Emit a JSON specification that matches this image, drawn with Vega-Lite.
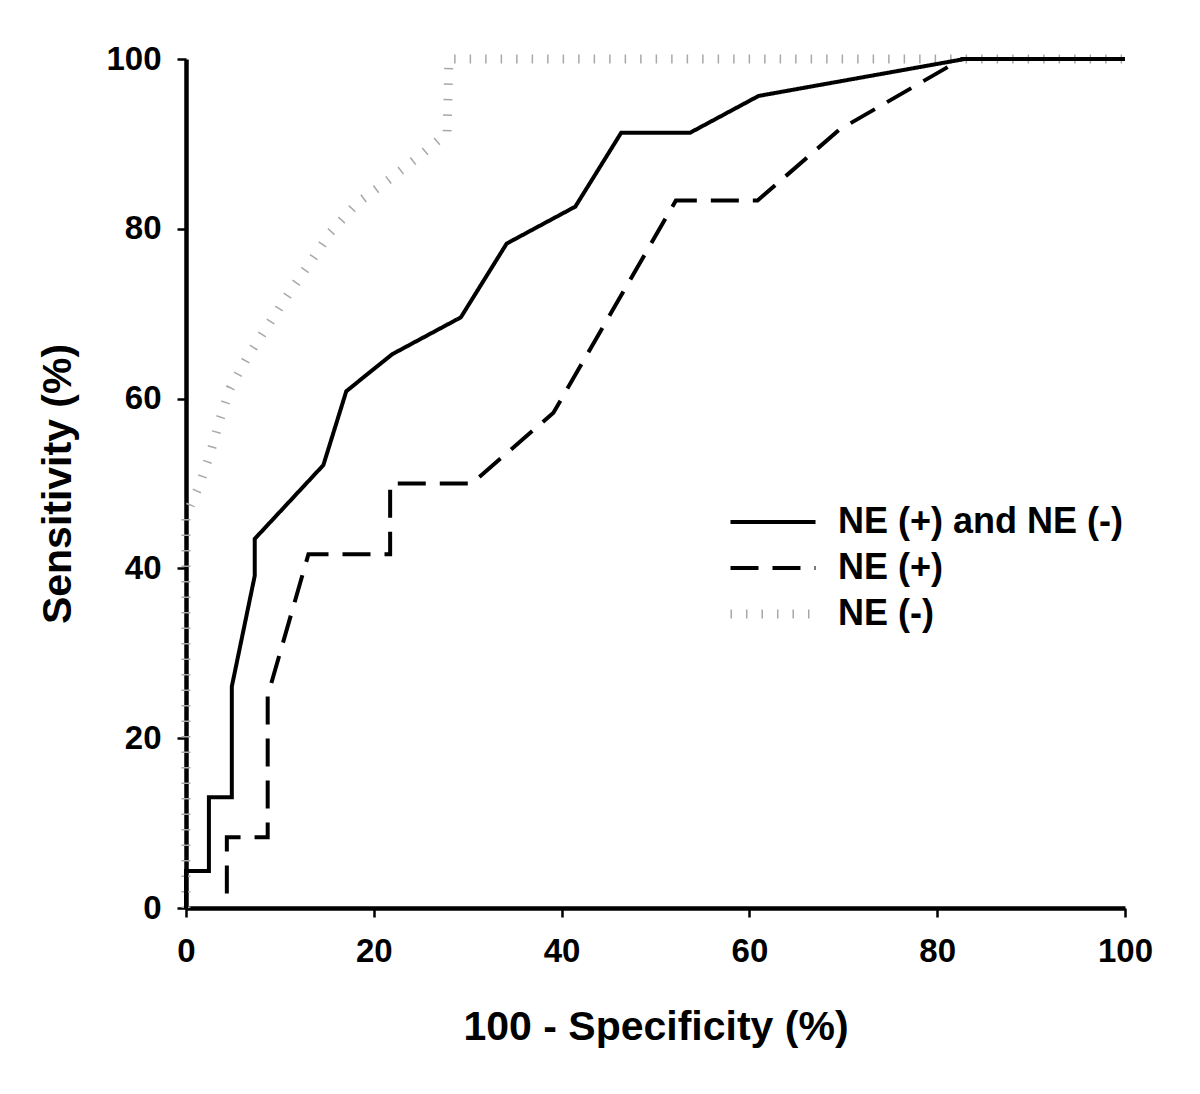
{
  "$schema": "https://vega.github.io/schema/vega-lite/v6.json",
  "width": 939,
  "height": 849,
  "autosize": {"type": "none"},
  "padding": {"left": 186, "top": 59, "right": 75, "bottom": 186},
  "background": "white",
  "config": {
    "view": {"stroke": null},
    "font": "Liberation Sans",
    "axis": {
      "grid": false,
      "domainColor": "#000000",
      "domainWidth": 4.5,
      "tickColor": "#000000",
      "tickWidth": 2.5,
      "tickSize": 9,
      "labelFont": "Liberation Sans",
      "labelFontSize": 33,
      "labelFontWeight": "bold",
      "labelColor": "#000000",
      "labelFlush": false,
      "titleFont": "Liberation Sans",
      "titleFontSize": 41,
      "titleFontWeight": "bold",
      "titleColor": "#000000"
    },
    "legend": {
      "orient": "none",
      "legendX": 569,
      "legendY": 445,
      "padding": 0,
      "labelFont": "Liberation Sans",
      "labelFontSize": 36,
      "labelFontWeight": "bold",
      "labelColor": "#000000",
      "labelOffset": 47,
      "symbolType": "M-4,0L4,0",
      "symbolSize": 452,
      "rowPadding": 10,
      "labelLimit": 600
    }
  },
  "data": {
    "values": [
      {"series": "NE (-)", "o": 1, "x": 0, "y": 0},
      {"series": "NE (-)", "o": 2, "x": 0, "y": 46},
      {"series": "NE (-)", "o": 3, "x": 0.5, "y": 47.5},
      {"series": "NE (-)", "o": 4, "x": 1.5, "y": 50},
      {"series": "NE (-)", "o": 5, "x": 2.6, "y": 53.6},
      {"series": "NE (-)", "o": 6, "x": 3.6, "y": 57.5},
      {"series": "NE (-)", "o": 7, "x": 4.7, "y": 61.2},
      {"series": "NE (-)", "o": 8, "x": 6.5, "y": 64.8},
      {"series": "NE (-)", "o": 9, "x": 8.6, "y": 68.4},
      {"series": "NE (-)", "o": 10, "x": 10.9, "y": 72.3},
      {"series": "NE (-)", "o": 11, "x": 13.2, "y": 76.0},
      {"series": "NE (-)", "o": 12, "x": 15.4, "y": 79.6},
      {"series": "NE (-)", "o": 13, "x": 18.2, "y": 83.0},
      {"series": "NE (-)", "o": 14, "x": 21.5, "y": 85.7},
      {"series": "NE (-)", "o": 15, "x": 24.8, "y": 88.5},
      {"series": "NE (-)", "o": 16, "x": 27.8, "y": 91.3},
      {"series": "NE (-)", "o": 17, "x": 28.0, "y": 100},
      {"series": "NE (-)", "o": 18, "x": 100, "y": 100},

      {"series": "NE (+) and NE (-)", "o": 1, "x": 0, "y": 0},
      {"series": "NE (+) and NE (-)", "o": 2, "x": 0, "y": 4.35},
      {"series": "NE (+) and NE (-)", "o": 3, "x": 2.44, "y": 4.35},
      {"series": "NE (+) and NE (-)", "o": 4, "x": 2.44, "y": 13.04},
      {"series": "NE (+) and NE (-)", "o": 5, "x": 4.88, "y": 13.04},
      {"series": "NE (+) and NE (-)", "o": 6, "x": 4.88, "y": 26.09},
      {"series": "NE (+) and NE (-)", "o": 7, "x": 7.32, "y": 39.13},
      {"series": "NE (+) and NE (-)", "o": 8, "x": 7.32, "y": 43.48},
      {"series": "NE (+) and NE (-)", "o": 9, "x": 14.63, "y": 52.17},
      {"series": "NE (+) and NE (-)", "o": 10, "x": 17.07, "y": 60.87},
      {"series": "NE (+) and NE (-)", "o": 11, "x": 21.95, "y": 65.22},
      {"series": "NE (+) and NE (-)", "o": 12, "x": 29.27, "y": 69.57},
      {"series": "NE (+) and NE (-)", "o": 13, "x": 34.15, "y": 78.26},
      {"series": "NE (+) and NE (-)", "o": 14, "x": 41.46, "y": 82.61},
      {"series": "NE (+) and NE (-)", "o": 15, "x": 46.34, "y": 91.30},
      {"series": "NE (+) and NE (-)", "o": 16, "x": 53.66, "y": 91.30},
      {"series": "NE (+) and NE (-)", "o": 17, "x": 60.98, "y": 95.65},
      {"series": "NE (+) and NE (-)", "o": 18, "x": 82.93, "y": 100},
      {"series": "NE (+) and NE (-)", "o": 19, "x": 100, "y": 100},

      {"series": "NE (+)", "o": 1, "x": 4.35, "y": 1.7},
      {"series": "NE (+)", "o": 2, "x": 4.35, "y": 8.33},
      {"series": "NE (+)", "o": 3, "x": 8.70, "y": 8.33},
      {"series": "NE (+)", "o": 4, "x": 8.70, "y": 25.0},
      {"series": "NE (+)", "o": 5, "x": 13.04, "y": 41.67},
      {"series": "NE (+)", "o": 6, "x": 21.74, "y": 41.67},
      {"series": "NE (+)", "o": 7, "x": 21.74, "y": 50.0},
      {"series": "NE (+)", "o": 8, "x": 30.43, "y": 50.0},
      {"series": "NE (+)", "o": 9, "x": 39.13, "y": 58.33},
      {"series": "NE (+)", "o": 10, "x": 52.17, "y": 83.33},
      {"series": "NE (+)", "o": 11, "x": 60.87, "y": 83.33},
      {"series": "NE (+)", "o": 12, "x": 69.57, "y": 91.67},
      {"series": "NE (+)", "o": 13, "x": 82.61, "y": 100},
      {"series": "NE (+)", "o": 14, "x": 100, "y": 100}
    ]
  },
  "mark": {"type": "line", "strokeCap": "butt", "strokeJoin": "miter"},
  "encoding": {
    "x": {
      "field": "x",
      "type": "quantitative",
      "scale": {"domain": [0, 100], "nice": false, "zero": false},
      "axis": {
        "values": [0, 20, 40, 60, 80, 100],
        "format": "d",
        "title": "100 - Specificity (%)",
        "labelPadding": 18,
        "titlePadding": 39
      }
    },
    "y": {
      "field": "y",
      "type": "quantitative",
      "scale": {"domain": [0, 100], "nice": false, "zero": false},
      "axis": {
        "values": [0, 20, 40, 60, 80, 100],
        "format": "d",
        "title": "Sensitivity (%)",
        "labelPadding": 16,
        "titlePadding": 26
      }
    },
    "order": {"field": "o", "type": "quantitative"},
    "color": {
      "field": "series",
      "type": "nominal",
      "scale": {
        "domain": ["NE (+) and NE (-)", "NE (+)", "NE (-)"],
        "range": ["#000000", "#000000", "#a8a8a8"]
      },
      "legend": {"title": null}
    },
    "strokeDash": {
      "field": "series",
      "type": "nominal",
      "scale": {
        "domain": ["NE (+) and NE (-)", "NE (+)", "NE (-)"],
        "range": [[1, 0], [28, 14], [1.5, 14]]
      },
      "legend": {"title": null}
    },
    "strokeWidth": {
      "field": "series",
      "type": "nominal",
      "scale": {
        "type": "ordinal",
        "domain": ["NE (+) and NE (-)", "NE (+)", "NE (-)"],
        "range": [4, 4, 9]
      },
      "legend": {"title": null}
    }
  }
}
